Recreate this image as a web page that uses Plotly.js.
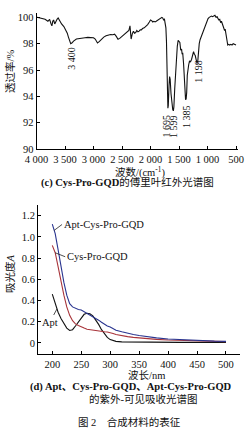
<!DOCTYPE html>
<html>
<head>
<meta charset="utf-8">
<script src="https://cdn.plot.ly/plotly-3.0.1.min.js"></script>
<style>html,body{margin:0;padding:0;background:#fff;}#chart{width:250px;height:433px;}</style>
</head>
<body>
<div id="chart"></div>
<script>
// ---- (c) FTIR spectrum of Cys-Pro-GQD ----
const irWavenumber = [3990,3950,3900,3850,3800,3770,3745,3730,3715,3700,3680,3660,3640,3620,3590,3560,3520,3490,3460,3440,3420,3400,3380,3350,3300,3250,3200,3150,3100,3050,3000,2970,2950,2930,2900,2860,2820,2780,2740,2700,2660,2630,2600,2570,2540,2510,2470,2430,2400,2380,2360,2350,2340,2320,2300,2280,2260,2240,2220,2200,2180,2160,2140,2110,2080,2050,2020,2000,1980,1960,1940,1920,1900,1880,1860,1840,1820,1800,1785,1770,1755,1745,1730,1720,1710,1700,1695,1688,1675,1665,1655,1640,1625,1610,1599,1590,1575,1560,1545,1530,1515,1500,1485,1470,1455,1445,1435,1420,1405,1395,1385,1375,1365,1355,1345,1330,1315,1300,1280,1260,1245,1230,1215,1200,1185,1170,1160,1145,1130,1110,1090,1070,1050,1030,1010,990,970,950,930,910,890,870,850,830,815,800,785,770,755,740,725,710,700,690,680,670,660,645,630,610,590,570,550,530,510,500];
const irTransmittance = [100.0,99.95,99.9,99.85,99.7,99.85,99.5,99.35,99.7,99.8,99.5,99.75,99.85,99.95,99.7,99.5,99.3,99.1,98.8,98.5,98.15,98.0,98.05,98.2,98.35,98.4,98.45,98.45,98.48,98.45,98.45,98.35,98.15,98.05,98.15,98.35,98.5,98.6,98.68,98.7,98.68,98.72,98.55,98.33,98.4,98.52,98.65,98.8,98.9,99.0,99.35,98.6,98.35,98.75,98.95,98.8,98.85,99.0,98.9,98.95,99.05,99.05,99.15,99.2,99.3,99.45,99.65,99.8,99.75,99.65,99.7,99.65,99.7,99.75,99.8,99.85,99.9,100.0,99.95,99.8,99.85,99.55,99.2,98.2,96.0,93.8,93.1,93.3,94.8,95.5,95.3,94.2,93.4,93.0,92.9,93.2,94.6,96.0,97.1,97.8,98.25,98.2,98.1,97.5,97.6,97.2,97.3,96.5,95.0,94.2,93.75,93.8,94.3,95.6,96.1,96.4,96.7,96.6,96.8,97.3,97.4,97.2,97.1,96.8,96.5,96.7,97.3,98.0,98.3,98.55,98.8,99.05,99.3,99.55,99.75,99.9,100.0,100.05,100.1,100.05,100.1,100.15,100.0,100.05,99.9,99.8,99.85,99.6,99.7,99.5,99.3,99.1,99.0,99.1,98.8,98.4,98.0,97.9,97.95,97.9,97.95,97.9,98.0,97.95,97.9,97.9];
const irTickValues = [4000,3500,3000,2500,2000,1500,1000,500];
const irTickLabels = ["4 000","3 500","3 000","2 500","2 000","1 500","1 000","500"];
const irYTicks = [90,92,94,96,98,100];
const irPeakPositions = [3400,1720,1600,1378,1160];
const irPeakLabels = ["3 400","1 695","1 599","1 385","1 198"];
const irPeakLabelLevels = [96.9,91.75,91.7,92.5,95.9];

// ---- (d) UV-Vis absorption ----
const uvWavelength = [200,205,210,215,220,225,230,235,240,245,250,255,260,265,270,275,280,285,290,295,300,305,310,320,330,340,350,360,370,380,400,420,440,460,480,500];
const absApt = [0.46,0.37,0.29,0.23,0.18,0.14,0.118,0.125,0.16,0.2,0.24,0.27,0.28,0.275,0.255,0.22,0.175,0.125,0.085,0.052,0.032,0.022,0.015,0.01,0.009,0.008,0.008,0.008,0.007,0.007,0.007,0.006,0.006,0.006,0.006,0.006];
const absCysProGQD = [0.92,0.85,0.72,0.58,0.45,0.34,0.26,0.21,0.18,0.165,0.15,0.14,0.13,0.125,0.12,0.115,0.11,0.108,0.105,0.103,0.1,0.09,0.08,0.068,0.06,0.053,0.047,0.042,0.038,0.034,0.028,0.024,0.02,0.018,0.015,0.013];
const absAptCysProGQD = [1.12,1.03,0.88,0.72,0.57,0.45,0.37,0.34,0.325,0.315,0.31,0.295,0.28,0.265,0.25,0.235,0.215,0.195,0.175,0.16,0.15,0.135,0.12,0.105,0.09,0.08,0.07,0.062,0.055,0.048,0.038,0.031,0.025,0.02,0.017,0.015];
const uvTickValues = [200,250,300,350,400,450,500];
const uvYTicks = [0,0.2,0.4,0.6,0.8,1.0,1.2];
const uvYTickLabels = ["0","0.2","0.4","0.6","0.8","1.0","1.2"];
const seriesNames = ["Apt","Cys-Pro-GQD","Apt-Cys-Pro-GQD"];
const seriesColors = ["#111111","#a8343a","#2a3590"];

const FONT = "Liberation Serif, Times New Roman, Noto Sans CJK SC, serif";
const W = 250, H = 433;
const px = v => v / W, py = v => 1 - v / H;

const traces = [
  {x: irWavenumber, y: irTransmittance, xaxis: 'x', yaxis: 'y', mode: 'lines',
   line: {color: '#111', width: 1.1}, hoverinfo: 'skip'},
  {x: uvWavelength, y: absApt, xaxis: 'x2', yaxis: 'y2', mode: 'lines', name: seriesNames[0],
   line: {color: seriesColors[0], width: 1.1}},
  {x: uvWavelength, y: absCysProGQD, xaxis: 'x2', yaxis: 'y2', mode: 'lines', name: seriesNames[1],
   line: {color: seriesColors[1], width: 1.1}},
  {x: uvWavelength, y: absAptCysProGQD, xaxis: 'x2', yaxis: 'y2', mode: 'lines', name: seriesNames[2],
   line: {color: seriesColors[2], width: 1.1}}
];

const axisCommon = {showline: true, linecolor: '#000', linewidth: 1, ticks: 'inside', ticklen: 3,
  tickcolor: '#000', tickfont: {family: FONT, size: 10.5, color: '#111'}, showgrid: false, zeroline: false,
  fixedrange: true};

const annotations = [];
irPeakLabels.forEach((t, i) => annotations.push({
  xref: 'x', yref: 'y', x: irPeakPositions[i], y: irPeakLabelLevels[i], text: t, showarrow: false,
  textangle: -90, font: {family: FONT, size: 10, color: '#111'}, xanchor: 'center', yanchor: 'middle'
}));
// curve labels
annotations.push({xref: 'x2', yref: 'y2', x: 203, y: absAptCysProGQD[0] - 0.06, text: seriesNames[2],
  showarrow: true, arrowhead: 0, arrowwidth: 0.8, arrowcolor: '#222', ax: 8, ay: -6, xanchor: 'left',
  font: {family: FONT, size: 10.5, color: '#111'}});
annotations.push({xref: 'x2', yref: 'y2', x: 205, y: absCysProGQD[1], text: seriesNames[1],
  showarrow: true, arrowhead: 0, arrowwidth: 0.8, arrowcolor: '#222', ax: 10, ay: 4, xanchor: 'left',
  font: {family: FONT, size: 10.5, color: '#111'}});
annotations.push({xref: 'x2', yref: 'y2', x: 208, y: 0.32, text: seriesNames[0],
  showarrow: true, arrowhead: 0, arrowwidth: 0.8, arrowcolor: '#222', ax: -7, ay: 13,
  font: {family: FONT, size: 10.5, color: '#111'}});

const paperText = (x, y, text, size, angle) => ({xref: 'paper', yref: 'paper', x: px(x), y: py(y), text: text,
  showarrow: false, textangle: angle || 0, xanchor: 'center', yanchor: 'middle',
  font: {family: FONT, size: size, color: '#111'}});
annotations.push(paperText(10, 72, '透过率/%', 10.5, -90));
annotations.push(paperText(140, 171.5, '波数/(cm<sup>-1</sup>)', 10.5));
annotations.push(paperText(127.5, 183, '<b>(c) Cys-Pro-GQD</b>的傅里叶红外光谱图', 10.5));
annotations.push(paperText(10, 274, '吸光度<i>A</i>', 10.5, -90));
annotations.push(paperText(146, 375, '波长/nm', 10.5));
annotations.push(paperText(131, 387, '<b>(d) Apt、Cys-Pro-GQD、Apt-Cys-Pro-GQD</b>', 10.5));
annotations.push(paperText(143, 399, '的紫外-可见吸收光谱图', 10.5));
annotations.push(paperText(129, 422, '图 2　合成材料的表征', 10.5));

const layout = {
  width: W, height: H, margin: {l: 0, r: 0, t: 0, b: 0}, showlegend: false,
  paper_bgcolor: '#fff', plot_bgcolor: '#fff', font: {family: FONT},
  xaxis: Object.assign({}, axisCommon, {domain: [px(36.5), px(238)], range: [4000, 465],
    tickvals: irTickValues, ticktext: irTickLabels, anchor: 'y'}),
  yaxis: Object.assign({}, axisCommon, {domain: [py(149), py(13)], range: [90, 100.33],
    tickvals: irYTicks, anchor: 'x'}),
  xaxis2: Object.assign({}, axisCommon, {domain: [px(38), px(240)], range: [175.3, 524.2],
    tickvals: uvTickValues, anchor: 'y2'}),
  yaxis2: Object.assign({}, axisCommon, {domain: [py(354), py(205)], range: [-0.104, 1.30],
    tickvals: uvYTicks, ticktext: uvYTickLabels, anchor: 'x2'}),
  annotations: annotations
};

Plotly.newPlot('chart', traces, layout, {staticPlot: true, displayModeBar: false});
</script>
</body>
</html>
